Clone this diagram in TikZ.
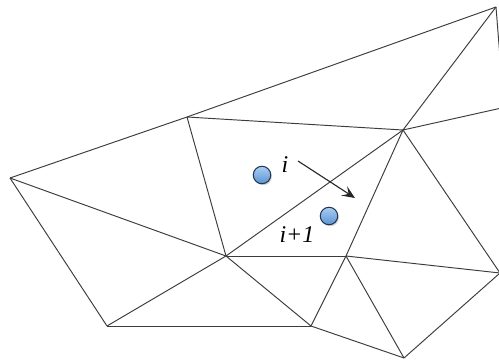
\documentclass[tikz,border=0pt]{standalone}
\usepackage{fontspec}
\setmainfont{Liberation Serif}
\usetikzlibrary{arrows.meta,shadows}
\definecolor{edgegray}{HTML}{3C3C3C}
\definecolor{balltop}{HTML}{A9CDF2}
\definecolor{ballbot}{HTML}{5A94D4}
\definecolor{ballrim}{HTML}{24364F}
\tikzset{
  edge/.style={draw=edgegray, line width=0.95pt},
  ball/.style={circle, minimum size=17.5pt, inner sep=0pt, draw=ballrim, line width=1pt,
    top color=balltop, bottom color=ballbot,
    drop shadow={shadow xshift=1.2pt, shadow yshift=-1.5pt, opacity=0.35}},
  lbl/.style={font=\fontsize{24}{28}\selectfont\itshape, inner sep=0pt, text=black},
  motion/.style={draw=black!85, line width=1.1pt, -{Stealth[length=13pt, width=11pt, inset=5.5pt]}}
}
\begin{document}
\begin{tikzpicture}[x=1pt, y=-1pt]
\useasboundingbox (0,0) rectangle (499,362);
\fill[white] (0,0) rectangle (499,362);
\begin{scope}
\clip (0,0) rectangle (499,362);
\coordinate (A) at (10,178);
\coordinate (B) at (187,117);
\coordinate (C) at (226,256);
\coordinate (D) at (107,326);
\coordinate (E) at (496,7);
\coordinate (F) at (403,130);
\coordinate (G) at (346,256);
\coordinate (H) at (311,326);
\coordinate (I) at (404,358);
\coordinate (J) at (500,273);
\coordinate (K) at (515,105);
\coordinate (L) at (501,70);
\path[edge] (A) -- (B) -- (E);
\path[edge] (B) -- (F);
\path[edge] (B) -- (C);
\path[edge] (A) -- (C);
\path[edge] (A) -- (D);
\path[edge] (D) -- (C);
\path[edge] (D) -- (H);
\path[edge] (C) -- (G);
\path[edge] (C) -- (H);
\path[edge] (C) -- (F);
\path[edge] (F) -- (E);
\path[edge] (F) -- (K);
\path[edge] (E) -- (L);
\path[edge] (F) -- (G);
\path[edge] (F) -- (J);
\path[edge] (G) -- (H);
\path[edge] (G) -- (I);
\path[edge] (G) -- (J);
\path[edge] (H) -- (I);
\path[edge] (I) -- (J);
\end{scope}
\node[ball] (p1) at (262,175) {};
\node[ball] (p2) at (329,216) {};
\node[lbl, anchor=base] (l1) at (285,172) {i};
\node[lbl, anchor=base] (l2) at (297,242) {i+1};
\coordinate (a1) at (298,161);
\coordinate (a2) at (355,198);
\draw[motion] (a1) -- (a2);
\end{tikzpicture}
\end{document}
